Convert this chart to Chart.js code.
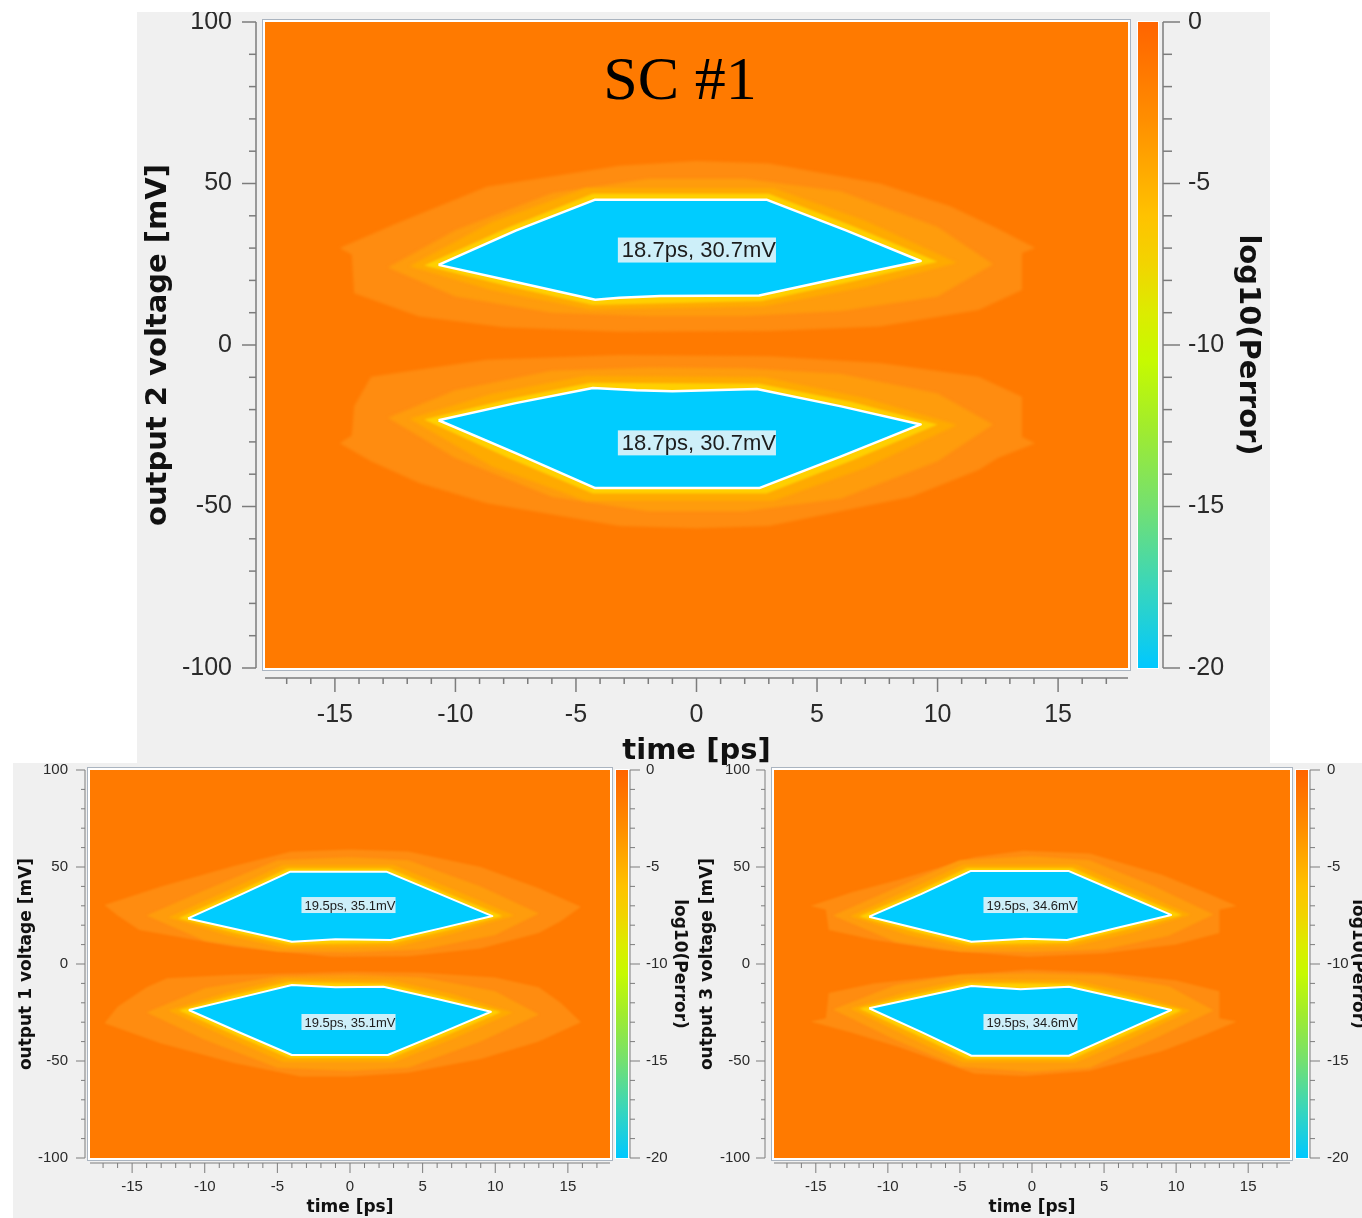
<!DOCTYPE html>
<html><head><meta charset="utf-8">
<script src="https://cdn.jsdelivr.net/npm/chart.js@4.4.1/dist/chart.umd.min.js"></script>
<style>
html,body{margin:0;padding:0;background:#fff;}
body{width:1362px;height:1218px;position:relative;overflow:hidden;}
.panel{position:absolute;background:#f0f0f0;}
canvas{position:absolute;}
#title{position:absolute;left:430px;width:500px;top:38px;text-align:center;font-family:"Liberation Serif",serif;font-size:62px;line-height:80px;color:#000;}
</style></head>
<body>
<div class="panel" style="left:137px;top:12px;width:1133px;height:753px"></div>
<div class="panel" style="left:13px;top:763px;width:1349px;height:455px"></div>
<canvas id="c1" width="1133" height="753" style="left:137px;top:12px"></canvas>
<canvas id="c2" width="677" height="455" style="left:13px;top:763px"></canvas>
<canvas id="c3" width="672" height="455" style="left:690px;top:763px"></canvas>
<div id="title">SC #1</div>
<script>
// ---------- axes / tick labels ----------
const timeTicks = [-15, -10, -5, 0, 5, 10, 15];
const voltTicks = [-100, -50, 0, 50, 100];
const perrTicks = [-20, -15, -10, -5, 0];
const timeRange = [-17.9, 17.9];
const voltRange = [-100, 100];
const perrRange = [-20, 0];
// colour map of log10(Perror)
const perrStopValues = [0, -1.5, -3, -4.5, -6, -7.5, -9, -10.5, -12.5, -15, -17.5, -20];
const perrStopColors = ['#ff6400','#ff7800','#ff8e00','#ffa800','#ffc200','#f2d400','#dcec00','#c6fa00','#a2ec2c','#74e070','#38d6bc','#00c8ff'];

// ---------- SC #1 : output 2 (top) contour polygons [time ps, voltage mV] ----------
const out2_up_L1 = [[-14.8,30.0],[-12.5,37.5],[-8.7,49.0],[-3.2,55.5],[0,57.0],[3.0,56.2],[7.6,50.0],[10.5,43.0],[12.5,36.0],[14.05,30.0],[13.5,28.5],[13.5,17.0],[11.7,10.8],[7.6,5.7],[3.0,4.3],[-3.2,4.1],[-8.0,5.5],[-11.5,8.8],[-14.2,16.0],[-14.3,28.0]];
const out2_up_L2 = [[-12.8,24.0],[-10.0,35.5],[-6.0,47.0],[-2.0,51.5],[2.0,51.5],[6.0,47.5],[10.0,36.5],[12.3,25.0],[10.0,15.0],[6.0,10.5],[2.0,9.0],[-2.0,9.0],[-6.0,10.0],[-10.0,15.0]];
const out2_up_L3 = [[-11.9,24.4],[-8.5,38.0],[-4.6,48.5],[3.2,48.5],[7.0,38.5],[10.8,25.5],[7.0,18.0],[2.8,12.0],[-4.4,11.0],[-8.5,17.0]];
const out2_up_L4 = [[-11.3,24.6],[-7.8,36.4],[-4.3,46.8],[3.0,46.8],[6.5,36.8],[10.0,25.8],[6.4,19.6],[2.7,13.6],[-4.3,12.4],[-7.8,18.2]];
const out2_up_eye = [[-10.7,24.8],[-7.5,35.4],[-4.2,45.0],[2.9,45.0],[6.2,35.5],[9.3,26.0],[6.0,20.8],[2.6,15.3],[-1.5,15.2],[-3.2,14.6],[-4.2,14.0],[-7.5,19.5]];
const out2_lo_L1 = [[-14.8,-30.4],[-14.3,-28.0],[-14.2,-19.0],[-13.5,-9.8],[-8.7,-4.6],[-3.2,-3.1],[3.0,-3.5],[7.6,-5.6],[11.7,-9.8],[13.5,-16.0],[13.5,-28.5],[14.05,-30.4],[12.5,-35.0],[11.7,-38.7],[8.9,-47.0],[3.0,-56.0],[0,-56.7],[-3.2,-56.0],[-8.7,-49.0],[-11.5,-42.7],[-13.5,-36.0]];
const out2_lo_L2 = [[-12.8,-22.5],[-10.0,-14.0],[-6.0,-8.0],[-2.0,-7.0],[2.0,-7.2],[6.0,-9.0],[10.0,-15.0],[12.3,-24.6],[10.0,-36.0],[6.0,-47.5],[2.0,-51.5],[-2.0,-51.5],[-6.0,-47.0],[-10.0,-35.0]];
const out2_lo_L3 = [[-11.9,-22.8],[-8.5,-15.2],[-4.6,-9.6],[2.8,-10.0],[7.0,-16.5],[10.8,-24.8],[7.0,-38.0],[3.2,-48.2],[-4.6,-48.2],[-8.5,-37.5]];
const out2_lo_L4 = [[-11.3,-23.1],[-7.8,-16.8],[-4.4,-11.7],[2.6,-12.0],[6.4,-17.6],[10.0,-24.6],[6.5,-35.6],[2.9,-46.0],[-4.3,-46.0],[-7.8,-35.0]];
const out2_lo_eye = [[-10.7,-23.3],[-7.5,-18.0],[-4.3,-13.3],[-2.5,-14.0],[-1.0,-14.3],[2.5,-13.6],[6.0,-19.0],[9.3,-24.6],[6.0,-34.5],[2.6,-44.3],[-4.2,-44.3],[-7.5,-33.5]];
const out2_labelText = ['18.7ps, 30.7mV', '18.7ps, 30.7mV'];
const out2_labelPos = [[0.1, 29.4], [0.1, -30.3]];

// ---------- output 1 (bottom left) ----------
const out1_up_L1 = [[-16.9,30.4],[-13.0,40.0],[-8.0,50.5],[-4.1,57.9],[0,59.0],[4.0,58.0],[9.0,50.0],[13.0,39.0],[15.9,29.5],[14.5,22.0],[13.0,16.0],[9.0,8.0],[4.0,4.0],[-1.2,3.8],[-8.0,8.9],[-14.5,17.5],[-16.0,25.0]];
const out1_up_L2 = [[-14.0,25.0],[-10.0,38.0],[-5.0,53.5],[0,55.0],[4.0,53.5],[9.0,40.0],[13.0,26.0],[10.0,15.0],[5.0,7.5],[0,6.0],[-5.0,6.5],[-10.0,12.0]];
const out1_up_L3 = [[-12.5,24.0],[-8.5,37.5],[-4.6,51.0],[3.0,51.0],[7.2,38.0],[11.3,25.0],[7.2,16.0],[3.2,9.0],[-4.5,8.3],[-8.5,15.0]];
const out1_up_L4 = [[-11.8,23.6],[-8.0,36.2],[-4.3,49.2],[2.7,49.2],[6.6,36.7],[10.5,24.8],[6.7,17.4],[3.0,10.9],[-4.2,10.0],[-8.0,16.3]];
const out1_up_eye = [[-11.15,23.5],[-7.6,35.5],[-4.1,47.6],[2.5,47.6],[6.2,36.0],[9.8,24.7],[6.3,18.5],[2.8,12.4],[-1.0,12.8],[-4.0,11.5],[-7.6,17.5]];
const out1_lo_L1 = [[-16.9,-30.6],[-16.0,-22.0],[-14.0,-12.0],[-12.6,-7.4],[-8.0,-5.5],[-3.4,-4.8],[0,-4.0],[5.0,-4.5],[10.0,-7.0],[13.0,-12.0],[14.5,-20.0],[15.9,-30.0],[13.0,-40.0],[9.0,-49.0],[4.0,-56.0],[0,-58.0],[-3.4,-58.0],[-8.0,-51.0],[-13.0,-41.0]];
const out1_lo_L2 = [[-14.0,-25.0],[-10.0,-12.5],[-5.0,-6.5],[0,-5.5],[5.0,-7.0],[10.0,-14.0],[13.0,-26.0],[9.0,-40.0],[4.0,-53.5],[0,-55.0],[-5.0,-53.5],[-10.0,-39.0]];
const out1_lo_L3 = [[-12.5,-24.0],[-8.5,-14.8],[-4.5,-7.6],[2.8,-8.4],[7.0,-15.5],[11.2,-25.0],[7.2,-38.2],[3.0,-50.5],[-4.6,-50.5],[-8.5,-37.6]];
const out1_lo_L4 = [[-11.8,-23.8],[-8.0,-16.1],[-4.2,-9.3],[2.5,-10.2],[6.4,-16.9],[10.4,-24.7],[6.6,-36.9],[2.8,-48.5],[-4.2,-48.5],[-8.0,-36.3]];
const out1_lo_eye = [[-11.1,-23.7],[-7.5,-17.2],[-4.0,-10.8],[-1.0,-12.0],[2.3,-11.7],[6.0,-18.0],[9.7,-24.6],[6.2,-35.8],[2.6,-46.9],[-4.0,-46.9],[-7.6,-35.3]];
const out1_labelText = ['19.5ps, 35.1mV', '19.5ps, 35.1mV'];
const out1_labelPos = [[0.0, 30.4], [0.0, -29.9]];

// ---------- output 3 (bottom right) ----------
const out3_up_L1 = [[-15.36,29.9],[-12.5,37.0],[-9.3,43.3],[-4.0,55.0],[-0.6,58.4],[4.0,57.0],[9.0,46.0],[12.0,37.0],[14.2,29.9],[13.0,28.0],[13.0,16.0],[10.0,10.0],[5.0,5.5],[-0.3,3.8],[-6.3,7.2],[-11.0,12.5],[-14.1,17.5],[-14.3,28.0]];
const out3_up_L2 = [[-13.8,25.0],[-9.5,39.0],[-5.0,53.5],[0,55.5],[4.0,53.5],[8.5,40.0],[12.6,25.5],[9.5,14.5],[5.0,7.5],[0,6.2],[-5.0,6.5],[-9.5,11.5]];
const out3_up_L3 = [[-12.6,24.6],[-8.6,38.0],[-4.8,51.2],[3.1,51.2],[7.0,38.5],[11.0,25.4],[7.0,16.2],[2.8,9.2],[-4.6,8.4],[-8.6,15.0]];
const out3_up_L4 = [[-12.0,24.5],[-8.1,36.7],[-4.5,49.5],[2.8,49.5],[6.5,37.3],[10.4,25.3],[6.4,17.6],[2.6,10.9],[-4.4,10.0],[-8.1,16.6]];
const out3_up_eye = [[-11.3,24.4],[-7.7,36.0],[-4.27,47.9],[2.56,47.9],[6.1,36.6],[9.65,25.3],[6.0,18.8],[2.43,12.4],[-0.5,13.0],[-4.2,11.5],[-7.7,17.8]];
const out3_lo_L1 = [[-15.36,-29.7],[-14.3,-28.0],[-14.1,-15.0],[-11.0,-10.0],[-6.3,-6.5],[-0.3,-3.0],[5.0,-4.5],[10.0,-8.5],[13.0,-14.0],[13.0,-28.0],[14.2,-29.7],[12.0,-36.5],[9.0,-45.0],[4.0,-55.0],[-0.6,-57.7],[-4.0,-56.5],[-9.3,-42.6],[-12.5,-35.5]];
const out3_lo_L2 = [[-13.8,-23.5],[-9.5,-11.0],[-5.0,-5.5],[0,-4.8],[5.0,-5.8],[9.5,-11.5],[12.6,-24.0],[8.5,-38.5],[4.0,-53.5],[0,-55.5],[-5.0,-53.0],[-9.5,-39.0]];
const out3_lo_L3 = [[-12.6,-23.0],[-8.6,-14.3],[-4.6,-8.0],[3.0,-8.5],[7.0,-15.2],[11.0,-24.0],[7.0,-38.0],[3.0,-50.8],[-4.8,-50.8],[-8.6,-37.5]];
const out3_lo_L4 = [[-12.0,-22.9],[-8.1,-15.8],[-4.4,-9.8],[2.8,-10.2],[6.5,-16.6],[10.4,-23.8],[6.5,-36.6],[2.8,-48.9],[-4.5,-48.9],[-8.1,-36.2]];
const out3_lo_eye = [[-11.3,-22.8],[-7.7,-17.0],[-4.2,-11.3],[-0.8,-13.0],[2.56,-11.7],[6.1,-17.7],[9.65,-23.7],[6.1,-35.5],[2.56,-47.3],[-4.2,-47.3],[-7.7,-35.0]];
const out3_labelText = ['19.5ps, 34.6mV', '19.5ps, 34.6mV'];
const out3_labelPos = [[0.0, 30.4], [0.0, -29.9]];

// ---------- styles ----------
const plotOrange = '#ff7a00';
const levelFill = ['#00ccff', '#ffd000', '#ffaa00', '#ff9c0c', '#ff8c10']; // eye, L4, L3, L2, L1

Chart.defaults.font.family = "'Liberation Sans', Arial, sans-serif";
Chart.defaults.animation = false;

function polyData(pts) {
  const d = pts.map(p => ({x: p[0], y: p[1]}));
  d.push({x: pts[0][0], y: pts[0][1]});
  return d;
}

const bandBlur = {
  id: 'bandBlur',
  beforeDatasetsDraw(chart) {
    const metas = chart.getSortedVisibleDatasetMetas();
    const first = metas[metas.length - 1];
    chart.ctx.filter = blurOf(chart, first);
  },
  afterDatasetDraw(chart, args) {
    const metas = chart.getSortedVisibleDatasetMetas();
    const pos = metas.indexOf(args.meta);
    const next = metas[pos - 1];
    chart.ctx.filter = next ? blurOf(chart, next) : 'none';
  },
  afterDatasetsDraw(chart) { chart.ctx.filter = 'none'; }
};
function blurOf(chart, meta) {
  const b = chart.data.datasets[meta.index].blur;
  return b ? 'blur(' + b + 'px)' : 'none';
}

function makeChart(id, g, levels, labelText, labelPos, yTitle) {
  const datasets = [];
  levels.forEach((pair, li) => pair.forEach(pts => datasets.push({
    data: polyData(pts), fill: 'shape', backgroundColor: levelFill[li],
    borderColor: li === 0 ? '#ffffff' : 'rgba(0,0,0,0)', borderWidth: li === 0 ? g.eyeBorder : 0,
    borderJoinStyle: 'round', pointRadius: 0, pointHoverRadius: 0, tension: 0,
    blur: li === 0 ? 0 : g.blur[li - 1]
  })));

  const deco = {
    id: 'deco',
    beforeDraw(chart) {
      const {ctx, chartArea: a} = chart;
      ctx.save(); ctx.fillStyle = plotOrange;
      ctx.fillRect(a.left, a.top, a.right - a.left, a.bottom - a.top);
      ctx.restore();
    },
    afterDatasetsDraw(chart) {
      const {ctx} = chart; const xs = chart.scales.x, ys = chart.scales.y;
      ctx.save();
      ctx.font = g.labelFont + "px 'Liberation Sans'";
      ctx.textBaseline = 'middle'; ctx.textAlign = 'center';
      labelText.forEach((t, i) => {
        const px = xs.getPixelForValue(labelPos[i][0]);
        const py = ys.getPixelForValue(labelPos[i][1]);
        const w = ctx.measureText(t).width;
        ctx.fillStyle = '#cdeff9';
        ctx.fillRect(px - w / 2 - g.labelPad, py - g.labelBoxH / 2, w + g.labelPad, g.labelBoxH);
        ctx.fillStyle = '#1c1c1c';
        ctx.fillText(t, px, py + 1);
      });
      ctx.restore();
    },
    afterDraw(chart) {
      const {ctx, chartArea: a} = chart;
      const xs = chart.scales.x, ys = chart.scales.y, cs = chart.scales.cb;
      ctx.save();
      // plot frame
      ctx.strokeStyle = '#ffffff'; ctx.lineWidth = 2;
      ctx.strokeRect(a.left - 1, a.top - 1, a.right - a.left + 2, a.bottom - a.top + 2);
      ctx.strokeStyle = '#aab4c0'; ctx.lineWidth = 1;
      ctx.strokeRect(a.left - 2.5, a.top - 2.5, a.right - a.left + 5, a.bottom - a.top + 5);
      // colour bar
      const cTop = cs.getPixelForValue(perrRange[1]), cBot = cs.getPixelForValue(perrRange[0]);
      const cx = a.right + g.cbGap;
      const grad = ctx.createLinearGradient(0, cTop, 0, cBot);
      perrStopValues.forEach((v, i) => grad.addColorStop((perrRange[1] - v) / (perrRange[1] - perrRange[0]), perrStopColors[i]));
      ctx.fillStyle = grad; ctx.fillRect(cx, cTop, g.cbBarW, cBot - cTop);
      ctx.strokeStyle = '#ffffff'; ctx.lineWidth = 1;
      ctx.strokeRect(cx - 0.5, cTop - 0.5, g.cbBarW + 1, cBot - cTop + 1);
      // axes
      ctx.strokeStyle = '#7c7c7c'; ctx.lineWidth = g.axisLW;
      const line = (x1, y1, x2, y2) => { ctx.beginPath(); ctx.moveTo(x1, y1); ctx.lineTo(x2, y2); ctx.stroke(); };
      // y axis
      const yx = a.left - g.yAxisOff;
      line(yx, ys.getPixelForValue(voltRange[1]), yx, ys.getPixelForValue(voltRange[0]));
      for (let v = voltRange[0]; v <= voltRange[1]; v += 10) {
        const py = ys.getPixelForValue(v);
        line(yx, py, yx - (voltTicks.includes(v) ? g.yMaj : g.yMin), py);
      }
      // x axis
      const xy = a.bottom + g.xAxisOff;
      line(a.left, xy, a.right, xy);
      for (let t = -17; t <= 17; t++) {
        const px = xs.getPixelForValue(t);
        line(px, xy, px, xy + (timeTicks.includes(t) ? g.xMaj : g.xMin));
      }
      // colour bar axis
      const cax = a.right + g.cbAxisOff;
      line(cax, cTop, cax, cBot);
      for (let v = perrRange[0]; v <= perrRange[1]; v++) {
        const py = cs.getPixelForValue(v);
        line(cax, py, cax + (perrTicks.includes(v) ? g.cbMaj : g.cbMin), py);
      }
      ctx.restore();
    }
  };

  const tickFont = {family: "'Liberation Sans'", size: g.tickFont};
  const titleFont = {family: "'DejaVu Sans'", size: g.titleFont, weight: 'bold', lineHeight: 1.2};
  const common = {grid: {display: false, drawTicks: false}, border: {display: false}};

  return new Chart(document.getElementById(id), {
    type: 'line',
    data: {datasets},
    options: {
      responsive: false, devicePixelRatio: 1, animation: false, events: [],
      layout: {padding: {left: 0, right: 0, top: g.padTop, bottom: 0}},
      plugins: {legend: {display: false}, tooltip: {enabled: false}},
      scales: {
        x: Object.assign({}, common, {
          type: 'linear', position: 'bottom', min: timeRange[0], max: timeRange[1],
          ticks: {font: tickFont, color: '#2a2a2a', padding: g.xLabPad, autoSkip: false, maxRotation: 0, minRotation: 0},
          afterBuildTicks: s => { s.ticks = timeTicks.map(v => ({value: v})); },
          afterFit: s => { s.height = g.xH; s.paddingLeft = 0; s.paddingRight = 0; },
          title: {display: true, text: 'time [ps]', color: '#111', font: titleFont, padding: {top: 0, bottom: g.xTitlePad}}
        }),
        y: Object.assign({}, common, {
          type: 'linear', position: 'left', min: voltRange[0], max: voltRange[1],
          ticks: {font: tickFont, color: '#2a2a2a', padding: g.yLabPad, autoSkip: false},
          afterBuildTicks: s => { s.ticks = voltTicks.map(v => ({value: v})); },
          afterFit: s => { s.width = g.yW; s.paddingTop = 0; s.paddingBottom = 0; },
          title: {display: true, text: yTitle, color: '#111', font: titleFont, padding: {top: g.yTitlePad, bottom: 0}}
        }),
        cb: Object.assign({}, common, {
          type: 'linear', position: 'right', min: perrRange[0], max: perrRange[1],
          ticks: {font: tickFont, color: '#2a2a2a', padding: g.cbLabPad, autoSkip: false},
          afterBuildTicks: s => { s.ticks = perrTicks.map(v => ({value: v})); },
          afterFit: s => { s.width = g.cbW; s.paddingTop = 0; s.paddingBottom = 0; },
          title: {display: true, text: 'log10(Perror)', color: '#111', font: titleFont, padding: {top: g.cbTitlePad, bottom: 0}}
        })
      }
    },
    plugins: [deco, bandBlur]
  });
}

const geomTop = {padTop: 10, yW: 128, xH: 97, cbW: 142, tickFont: 25, titleFont: 29,
  yLabPad: 33, xLabPad: 32, cbLabPad: 60, yTitlePad: 3.6, xTitlePad: -3.5, cbTitlePad: 4.6,
  yAxisOff: 9, yMaj: 14, yMin: 7, xAxisOff: 10, xMaj: 14, xMin: 6,
  cbGap: 10, cbBarW: 20, cbAxisOff: 35, cbMaj: 17, cbMin: 9, axisLW: 1.5,
  labelFont: 22, labelBoxH: 25, labelPad: 4, blur: [1.2, 1.5, 1.5, 1.5], eyeBorder: 2.5};
const geomLeft = {padTop: 7, yW: 77, xH: 60, cbW: 80, tickFont: 15, titleFont: 17,
  yLabPad: 22, xLabPad: 20, cbLabPad: 36, yTitlePad: 3.8, xTitlePad: -0.2, cbTitlePad: 0,
  yAxisOff: 5, yMaj: 9, yMin: 4, xAxisOff: 5, xMaj: 10, xMin: 5,
  cbGap: 6, cbBarW: 12, cbAxisOff: 20, cbMaj: 10, cbMin: 5, axisLW: 1,
  labelFont: 13, labelBoxH: 16, labelPad: 3, blur: [0.8, 1, 1, 1], eyeBorder: 2};
const geomRight = Object.assign({}, geomLeft, {yW: 84, cbW: 72, yLabPad: 24, yTitlePad: 7.8, cbLabPad: 37, cbTitlePad: -6, yAxisOff: 9});

makeChart('c1', geomTop,
  [[out2_up_eye, out2_lo_eye], [out2_up_L4, out2_lo_L4], [out2_up_L3, out2_lo_L3], [out2_up_L2, out2_lo_L2], [out2_up_L1, out2_lo_L1]],
  out2_labelText, out2_labelPos, 'output 2 voltage [mV]');
makeChart('c2', geomLeft,
  [[out1_up_eye, out1_lo_eye], [out1_up_L4, out1_lo_L4], [out1_up_L3, out1_lo_L3], [out1_up_L2, out1_lo_L2], [out1_up_L1, out1_lo_L1]],
  out1_labelText, out1_labelPos, 'output 1 voltage [mV]');
makeChart('c3', geomRight,
  [[out3_up_eye, out3_lo_eye], [out3_up_L4, out3_lo_L4], [out3_up_L3, out3_lo_L3], [out3_up_L2, out3_lo_L2], [out3_up_L1, out3_lo_L1]],
  out3_labelText, out3_labelPos, 'output 3 voltage [mV]');
</script>
</body></html>
